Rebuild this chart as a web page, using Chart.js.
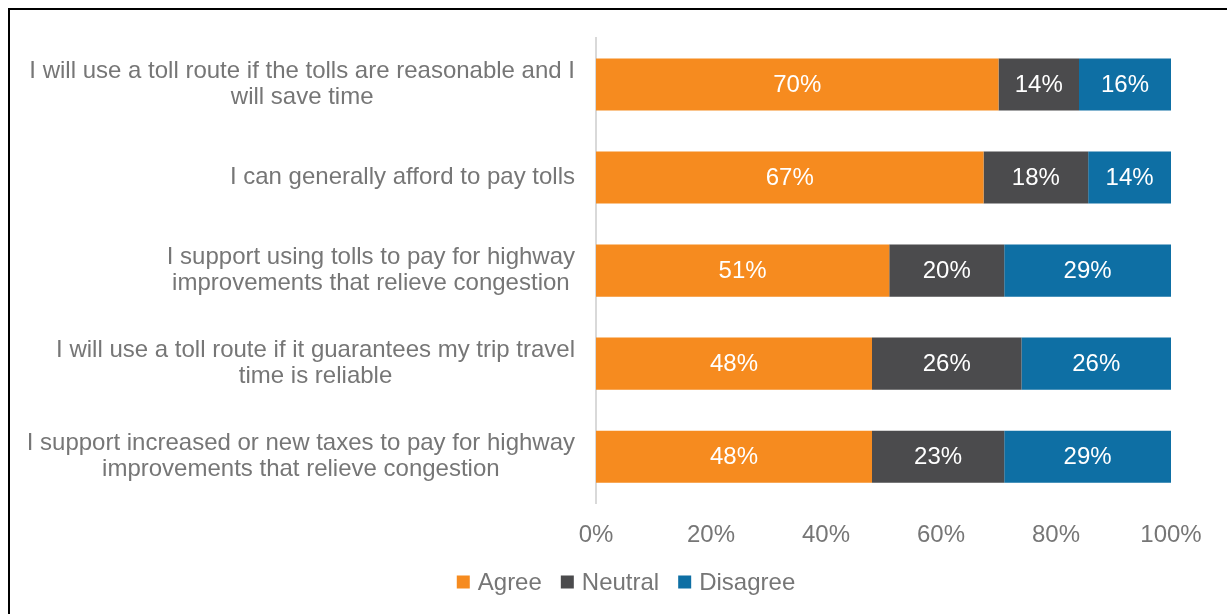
<!DOCTYPE html>
<html>
<head>
<meta charset="utf-8">
<script src="https://cdn.jsdelivr.net/npm/chart.js@4.4.1/dist/chart.umd.min.js"></script>
<style>
  html, body { margin: 0; padding: 0; background: #fff; }
  #wrap { position: relative; width: 1227px; height: 614px; overflow: hidden; }
  #frame { position: absolute; left: 8px; top: 8px; width: 1240px; height: 640px; border: 2px solid #000; box-sizing: border-box; }
  #chart { position: absolute; left: 0; top: 0; }
</style>
</head>
<body>
<div id="wrap">
  <div id="frame"></div>
  <canvas id="chart" width="1227" height="614"></canvas>
</div>
<script>
// statements, top to bottom, already wrapped like the original
var statements = [
    ['I will use a toll route if the tolls are reasonable and I', 'will save time'],
    ['I can generally afford to pay tolls'],
    ['I support using tolls to pay for highway', 'improvements that relieve congestion'],
    ['I will use a toll route if it guarantees my trip travel', 'time is reliable'],
    ['I support increased or new taxes to pay for highway', 'improvements that relieve congestion']
];
var agree    = [70, 67.4, 51, 48, 48];
var neutral  = [14, 18.2, 20, 26, 23];
var disagree = [16, 14.4, 29, 26, 29];
var xTicks = [0, 20, 40, 60, 80, 100];

var textGrey = '#767676';
var fontFamily = '"Liberation Sans", Arial, sans-serif';
var fontSize = 24;

// wrapped category labels, each block right aligned with its lines centred
var sideLabels = {
    id: 'sideLabels',
    afterDraw: function(chart) {
        var ctx = chart.ctx;
        var y = chart.scales.y;
        var right = 575, lh = 26;
        ctx.save();
        ctx.font = fontSize + 'px ' + fontFamily;
        ctx.fillStyle = textGrey;
        ctx.textAlign = 'center';
        ctx.textBaseline = 'middle';
        statements.forEach(function(lines, i) {
            var maxW = 0;
            lines.forEach(function(l) { maxW = Math.max(maxW, ctx.measureText(l).width); });
            var cx = right - maxW / 2;
            var cy = y.getPixelForTick(i) - (lines.length - 1) * lh / 2;
            lines.forEach(function(l, k) { ctx.fillText(l, cx, cy + k * lh); });
        });
        ctx.restore();
    }
};

// percent inside every segment
var barValues = {
    id: 'barValues',
    afterDatasetsDraw: function(chart) {
        var ctx = chart.ctx;
        ctx.save();
        ctx.font = fontSize + 'px ' + fontFamily;
        ctx.fillStyle = '#ffffff';
        ctx.textAlign = 'center';
        ctx.textBaseline = 'middle';
        chart.data.datasets.forEach(function(ds, d) {
            chart.getDatasetMeta(d).data.forEach(function(bar, i) {
                var p = bar.getCenterPoint();
                ctx.fillText(Math.round(ds.data[i]) + '%', p.x, p.y + 1);
            });
        });
        ctx.restore();
    }
};

// small square legend, Excel style (tight gap between box and text)
var bottomLegend = {
    id: 'bottomLegend',
    afterDraw: function(chart) {
        var ctx = chart.ctx;
        var box = 13, gap = 8, itemGap = 19, cy = 582;
        ctx.save();
        ctx.font = fontSize + 'px ' + fontFamily;
        var items = chart.data.datasets.map(function(ds) {
            return { text: ds.label, color: ds.backgroundColor, w: ctx.measureText(ds.label).width };
        });
        var total = 0;
        items.forEach(function(it, k) { total += box + gap + it.w + (k ? itemGap : 0); });
        var x = 626 - total / 2;
        ctx.textAlign = 'left';
        ctx.textBaseline = 'middle';
        items.forEach(function(it) {
            ctx.fillStyle = it.color;
            ctx.fillRect(x, cy - box / 2, box, box);
            ctx.fillStyle = textGrey;
            ctx.fillText(it.text, x + box + gap, cy + 1);
            x += box + gap + it.w + itemGap;
        });
        ctx.restore();
    }
};

new Chart(document.getElementById('chart'), {
    type: 'bar',
    data: {
        labels: statements.map(function(s) { return s.join(' '); }),
        datasets: [
            { label: 'Agree', data: agree, backgroundColor: '#F68B1F' },
            { label: 'Neutral', data: neutral, backgroundColor: '#4B4B4D' },
            { label: 'Disagree', data: disagree, backgroundColor: '#0E6FA4' }
        ]
    },
    options: {
        indexAxis: 'y',
        responsive: false,
        animation: false,
        maintainAspectRatio: false,
        layout: { padding: { left: 20, right: 56, top: 38, bottom: 54 } },
        datasets: { bar: { barPercentage: 1, categoryPercentage: 0.56 } },
        scales: {
            x: {
                stacked: true,
                min: 0,
                max: 100,
                afterBuildTicks: function(scale) {
                    scale.ticks = xTicks.map(function(v) { return { value: v }; });
                },
                grid: { display: false },
                border: { display: false },
                ticks: {
                    padding: 10,
                    color: textGrey,
                    font: { family: fontFamily, size: fontSize },
                    callback: function(v) { return v + '%'; }
                }
            },
            y: {
                stacked: true,
                grid: { display: false },
                border: { display: true, color: '#D9D9D9', width: 2 },
                ticks: { display: false },
                afterFit: function(scale) { scale.width = 576; }
            }
        },
        plugins: {
            legend: { display: false },
            tooltip: { enabled: false }
        }
    },
    plugins: [sideLabels, barValues, bottomLegend]
});
</script>
</body>
</html>
